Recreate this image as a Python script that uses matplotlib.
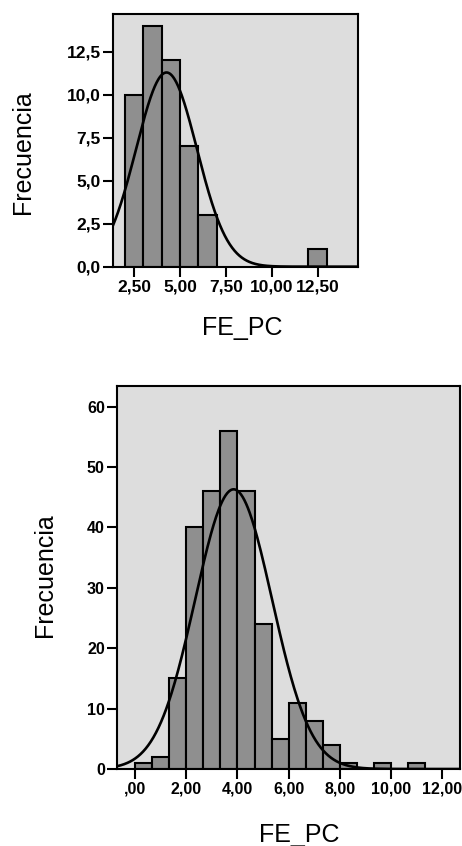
import numpy as np
import matplotlib
matplotlib.use("Agg")
import matplotlib.pyplot as plt

# top histogram (bin width 1)
top_left = [2, 3, 4, 5, 6, 12]
top_counts = [10, 14, 12, 7, 3, 1]
top_width = 1.0
top_mean, top_sd, top_n = 4.26, 1.66, 47
top_xticks = [2.5, 5.0, 7.5, 10.0, 12.5]
top_xlabels = ["2,50", "5,00", "7,50", "10,00", "12,50"]
top_yticks = [0, 2.5, 5.0, 7.5, 10.0, 12.5]
top_ylabels = ["0,0", "2,5", "5,0", "7,5", "10,0", "12,5"]

# bottom histogram (bin width 2/3)
bot_edges = [0.0, 0.667, 1.333, 2.0, 2.667, 3.333, 4.0, 4.667, 5.333, 6.0,
             6.667, 7.333, 8.0, 8.667, 9.333, 10.0, 10.667, 11.333]
bot_counts = [1, 2, 15, 40, 46, 56, 46, 24, 5, 11, 8, 4, 1, 0, 1, 0, 1]
bot_mean, bot_sd, bot_n = 3.85, 1.50, 261
bot_xticks = [0, 2, 4, 6, 8, 10, 12]
bot_xlabels = [",00", "2,00", "4,00", "6,00", "8,00", "10,00", "12,00"]
bot_yticks = [0, 10, 20, 30, 40, 50, 60]
bot_ylabels = ["0", "10", "20", "30", "40", "50", "60"]

bg = "#dddddd"
barc = "#8f8f8f"
fam = ["Liberation Sans", "DejaVu Sans"]


def normal_curve(ax, mean, sd, n, bw, xlim):
    x = np.linspace(xlim[0], xlim[1], 400)
    y = n * bw / (sd * np.sqrt(2 * np.pi)) * np.exp(-0.5 * ((x - mean) / sd) ** 2)
    ax.plot(x, y, color="black", lw=1.9, zorder=3)


def style(ax, xlim, ylim, xt, xl, yt, yl, fs):
    ax.set_facecolor(bg)
    ax.set_xlim(*xlim)
    ax.set_ylim(*ylim)
    ax.set_xticks(xt)
    ax.set_xticklabels(xl, fontsize=fs, fontweight="bold", family=fam)
    ax.set_yticks(yt)
    ax.set_yticklabels(yl, fontsize=fs, fontweight="bold", family=fam)
    ax.tick_params(direction="out", length=7, width=1.5, pad=2)
    for s in ax.spines.values():
        s.set_linewidth(1.5)


fig = plt.figure(figsize=(4.62, 8.46), dpi=100)

ax1 = fig.add_axes([0.2446, 0.6848, 0.5303, 0.2987])
ax1.bar(top_left, top_counts, width=top_width, align="edge",
        color=barc, edgecolor="black", linewidth=1.5, zorder=2)
xl1 = (1.34, 14.71)
normal_curve(ax1, top_mean, top_sd, top_n, top_width, xl1)
style(ax1, xl1, (0, 14.7), top_xticks, top_xlabels, top_yticks, top_ylabels,
      12.5)

ax2 = fig.add_axes([0.2539, 0.0910, 0.7420, 0.4527])
ax2.bar(bot_edges[:-1], bot_counts, width=np.diff(bot_edges), align="edge",
        color=barc, edgecolor="black", linewidth=1.5, zorder=2)
xl2 = (-0.69, 12.69)
normal_curve(ax2, bot_mean, bot_sd, bot_n, bot_edges[1] - bot_edges[0], xl2)
style(ax2, xl2, (0, 63.4), bot_xticks, bot_xlabels, bot_yticks, bot_ylabels,
      11.5)

fig.text(0.050, 0.820, "Frecuencia", rotation=90, ha="center", va="center",
         fontsize=18, family=fam)
fig.text(0.524, 0.612, "FE_PC", ha="center", va="center",
         fontsize=18, family=fam)
fig.text(0.0974, 0.3197, "Frecuencia", rotation=90, ha="center", va="center",
         fontsize=18, family=fam)
fig.text(0.647, 0.013, "FE_PC", ha="center", va="center",
         fontsize=18, family=fam)

fig.savefig("out.png", dpi=100)
